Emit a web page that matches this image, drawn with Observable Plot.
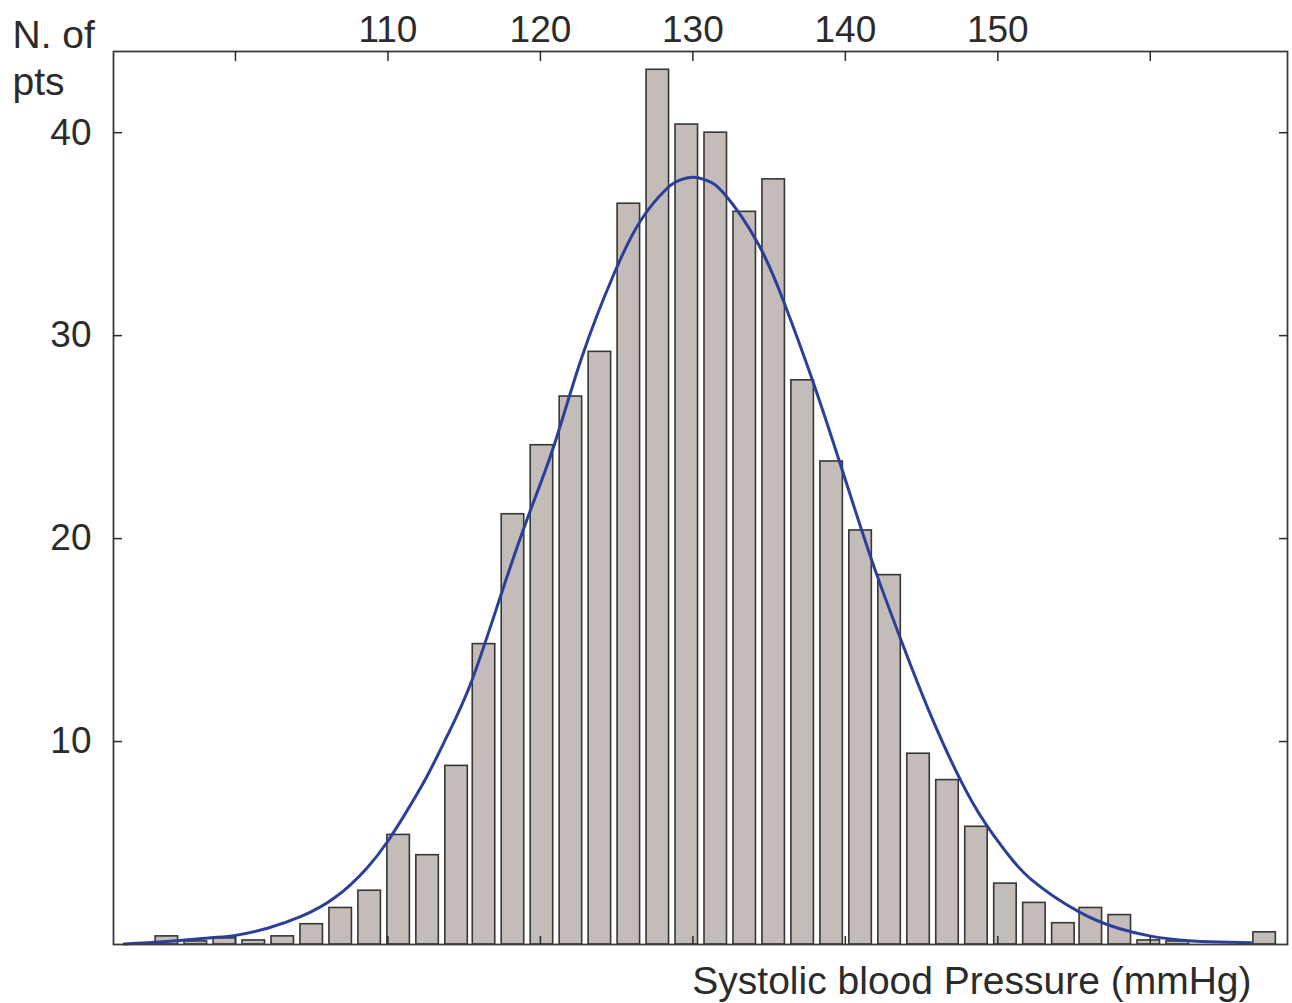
<!DOCTYPE html>
<html>
<head>
<meta charset="utf-8">
<script src="https://cdn.jsdelivr.net/npm/d3@7"></script>
<script src="https://cdn.jsdelivr.net/npm/@observablehq/plot@0.6"></script>
<style>
  html, body { margin: 0; padding: 0; background: #fff; }
  #chart svg { display: block; }
</style>
</head>
<body>
<div id="chart"></div>
<script>
// Histogram bins (centre of each bin, mmHg) and number of patients
const binCenters = [95.5, 97.4, 99.3, 101.2, 103.1, 105.0, 106.9, 108.8, 110.7, 112.6,
  114.5, 116.3, 118.2, 120.1, 122.0, 123.9, 125.8, 127.7, 129.6, 131.5,
  133.4, 135.3, 137.2, 139.1, 141.0, 142.9, 144.8, 146.7, 148.6, 150.5,
  152.4, 154.3, 156.1, 158.0, 159.9, 161.8, 163.7, 165.6, 167.5];
const counts = [0.4, 0.15, 0.3, 0.2, 0.4, 1.0, 1.8, 2.65, 5.4, 4.4,
  8.8, 14.8, 21.2, 24.6, 27.0, 29.2, 36.5, 43.1, 40.4, 40.0,
  36.1, 37.7, 27.8, 23.8, 20.4, 18.2, 9.4, 8.1, 5.8, 3.0,
  2.05, 1.05, 1.8, 1.45, 0.2, 0.15, 0, 0, 0.6];
const binWidth = 1.895;

// Fitted normal curve
const curveX = [92.7, 95.5, 98.4, 100.0, 102.1, 104.3, 106.5, 108.6, 110.0, 111.1,
  112.5, 113.9, 115.5, 117.4, 119.2, 120.9, 122.7, 124.8, 126.6, 128.3,
  129.1, 130.0, 130.9, 132.1, 134.3, 136.0, 137.8, 139.7, 141.7, 143.5,
  145.6, 148.3, 150.5, 152.2, 155.3, 157.9, 160.1, 162.3, 164.5, 166.6];
const curveY = [0.03, 0.15, 0.33, 0.45, 0.8, 1.38, 2.3, 3.75, 5.1, 6.4,
  8.2, 10.3, 13.0, 17.2, 21.1, 24.6, 28.9, 33.0, 35.7, 37.25,
  37.65, 37.8, 37.65, 36.95, 34.5, 31.6, 27.9, 23.6, 19.0, 15.3,
  11.3, 7.05, 4.6, 3.2, 1.62, 0.8, 0.4, 0.2, 0.12, 0.09];

// Axis ticks
const xTickValues = [100, 110, 120, 130, 140, 150, 160];
const xTickLabels = [110, 120, 130, 140, 150];
const yTickValues = [10, 20, 30, 40];

const bars = binCenters.map((c, i) => ({c, n: counts[i]})).filter(d => d.n > 0);
const curve = curveX.map((x, i) => ({x, y: curveY[i]}));

const ink = "#2b2b2b";

const plot = Plot.plot({
  width: 1292,
  height: 1003,
  marginLeft: 113,
  marginTop: 51,
  marginRight: 5,
  marginBottom: 59,
  style: {fontFamily: "'Liberation Sans', Arial, Helvetica, sans-serif", fontSize: "37px", color: ink, background: "#fff"},
  x: {domain: [92, 169], axis: null},
  y: {domain: [0, 44], axis: null},
  marks: [
    Plot.rect(bars, {
      x1: d => d.c - binWidth / 2,
      x2: d => d.c + binWidth / 2,
      y1: 0,
      y2: "n",
      insetLeft: 3.2,
      insetRight: 3.2,
      fill: "#c3bcb8",
      stroke: "#363636",
      strokeWidth: 1.6
    }),
    Plot.line(curve, {x: "x", y: "y", curve: "natural", stroke: "#2a3f9a", strokeWidth: 3}),
    Plot.frame({stroke: "#3a3a3a", strokeWidth: 1.8}),
    // top axis: inward ticks + labels
    Plot.axisX({anchor: "top", ticks: xTickValues, tickSize: -9, tickFormat: () => "", label: null, strokeWidth: 1.5}),
    Plot.axisX({anchor: "top", ticks: xTickLabels, tickSize: 0, tickPadding: 10, label: null}),
    // bottom axis: inward ticks only
    Plot.axisX({anchor: "bottom", ticks: xTickValues, tickSize: -8, tickFormat: () => "", label: null, strokeWidth: 1.5}),
    // left axis
    Plot.axisY({anchor: "left", ticks: yTickValues, tickSize: -9, tickFormat: () => "", label: null, strokeWidth: 1.5}),
    Plot.axisY({anchor: "left", ticks: yTickValues, tickSize: 0, tickPadding: 22, label: null}),
    // right axis: inward ticks only
    Plot.axisY({anchor: "right", ticks: yTickValues, tickSize: -9, tickFormat: () => "", label: null, strokeWidth: 1.5}),
    // axis titles
    Plot.text(["N. of\npts"], {
      frameAnchor: "top-left", dx: -101, dy: -37,
      textAnchor: "start", lineAnchor: "top", lineHeight: 1.2,
      fill: ink, fontSize: 39
    }),
    Plot.text(["Systolic blood Pressure (mmHg)"], {
      frameAnchor: "bottom-right", dx: -36, dy: 49,
      textAnchor: "end", lineAnchor: "bottom",
      fill: ink, fontSize: 39
    })
  ]
});

document.getElementById("chart").appendChild(plot);
</script>
</body>
</html>
